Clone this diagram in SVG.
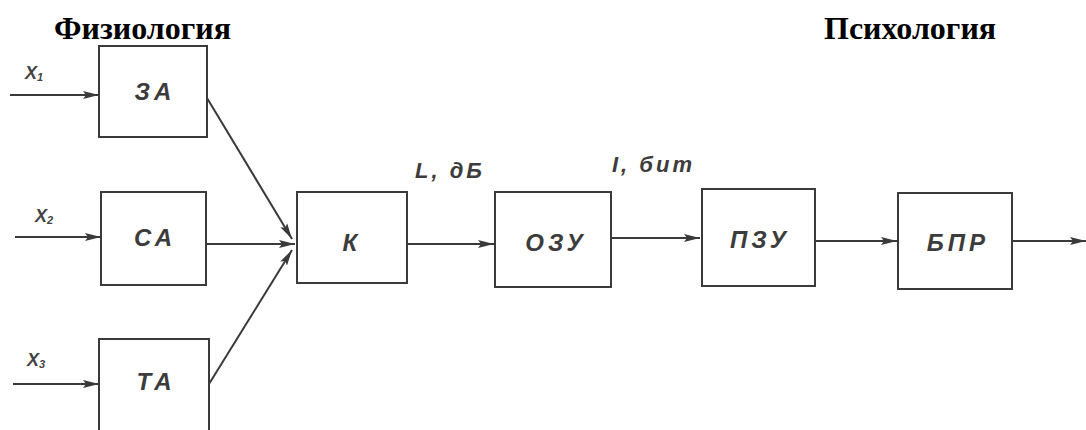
<svg xmlns="http://www.w3.org/2000/svg" width="1086" height="430" viewBox="0 0 1086 430">
<style>
.box{fill:#fff;stroke:#3a3a3a;stroke-width:2}
.lbl{font-family:"Liberation Sans",Arial,sans-serif;font-style:italic;font-weight:bold;font-size:24px;fill:#3c3c3c;letter-spacing:4px}
.tag{font-family:"Liberation Sans",Arial,sans-serif;font-style:italic;font-weight:bold;font-size:22px;fill:#3c3c3c;letter-spacing:3px}
.in{font-family:"Liberation Sans",Arial,sans-serif;font-style:italic;font-weight:bold;font-size:18px;fill:#444}
.ttl{font-family:"Liberation Serif","Times New Roman",serif;font-weight:bold;font-size:32px;fill:#000}
.ln{stroke:#3a3a3a;stroke-width:2;fill:none;marker-end:url(#ah)}
</style>
<defs>
<marker id="ah" viewBox="0 0 16 8" refX="16" refY="4" markerWidth="16" markerHeight="8" markerUnits="userSpaceOnUse" orient="auto">
<path d="M0,0 L16,4 L0,8 L3,4 Z" fill="#3a3a3a"/>
</marker>
</defs>
<rect width="1086" height="430" fill="#fff"/>
<text class="ttl" x="54" y="39">Физиология</text>
<text class="ttl" x="824" y="39">Психология</text>
<g id="connectors">
<line class="ln" x1="10" y1="95" x2="99" y2="95"/>
<line class="ln" x1="15" y1="237" x2="101" y2="237"/>
<line class="ln" x1="13" y1="384" x2="99" y2="384"/>
<line class="ln" x1="207" y1="98" x2="292" y2="239"/>
<line class="ln" x1="206" y1="244" x2="295" y2="244"/>
<line class="ln" x1="209" y1="384" x2="292" y2="250"/>
<line class="ln" x1="407" y1="244" x2="494" y2="244"/>
<line class="ln" x1="611" y1="238" x2="700" y2="238"/>
<line class="ln" x1="815" y1="241" x2="897" y2="241"/>
<line class="ln" x1="1012" y1="241" x2="1086" y2="241"/>
</g>
<text class="in" x="25" y="79">X<tspan font-size="11" dy="2">1</tspan></text>
<text class="in" x="35" y="222">X<tspan font-size="11" dy="2">2</tspan></text>
<text class="in" x="27" y="366">X<tspan font-size="11" dy="2">3</tspan></text>
<text class="tag" x="415" y="178">L, дБ</text>
<text class="tag" x="612" y="172">I, бит</text>
<g id="n-za"><rect class="box" x="99" y="46" width="108" height="91"/><text class="lbl" x="155" y="100" text-anchor="middle">ЗА</text></g>
<g id="n-sa"><rect class="box" x="101" y="192" width="105" height="93"/><text class="lbl" x="155" y="246" text-anchor="middle">СА</text></g>
<g id="n-ta"><rect class="box" x="99" y="339" width="110" height="100"/><text class="lbl" x="156" y="390" text-anchor="middle">ТА</text></g>
<g id="n-k"><rect class="box" x="297" y="192" width="110" height="91"/><text class="lbl" x="352" y="251" text-anchor="middle">К</text></g>
<g id="n-ozu"><rect class="box" x="495" y="192" width="116" height="95"/><text class="lbl" x="556" y="251" text-anchor="middle">ОЗУ</text></g>
<g id="n-pzu"><rect class="box" x="702" y="189" width="113" height="97"/><text class="lbl" x="760" y="248" text-anchor="middle">ПЗУ</text></g>
<g id="n-bpr"><rect class="box" x="898" y="193" width="114" height="96"/><text class="lbl" x="958" y="251" text-anchor="middle">БПР</text></g>
</svg>
